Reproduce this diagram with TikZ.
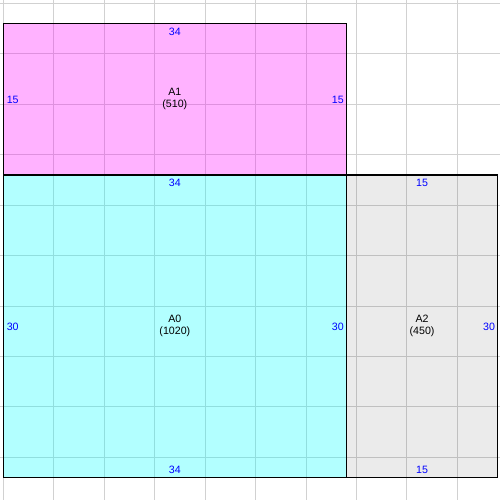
\documentclass[tikz,border=0pt]{standalone}
\usepackage{fontspec}
\setmainfont{Liberation Sans}
\definecolor{areaPink}{RGB}{255,0,255}
\definecolor{areaCyan}{RGB}{0,255,255}
\definecolor{areaGray}{RGB}{0,0,0}
\definecolor{dimBlue}{RGB}{0,0,255}
\begin{document}
\begin{tikzpicture}[x=1mm,y=-1mm]
    \tikzstyle{gridline}=[black!18,line width=0.1mm]
    \tikzstyle{dimlabel}=[text=dimBlue,font=\fontsize{3.0}{3.4}\selectfont,inner sep=0pt]
    \tikzstyle{arealabel}=[align=center,font=\fontsize{3.0}{3.4}\selectfont,inner sep=0pt]
    \useasboundingbox (-0.33,-0.33) rectangle (49.22,49.22);
    \clip (-0.33,-0.33) rectangle (49.22,49.22);
    \foreach \g in {0,5,...,45}
        {\draw[gridline] (\g,-1) -- (\g,50);
         \draw[gridline] (-1,\g) -- (50,\g);}

    % areas
    \foreach \nm/\xa/\ya/\xb/\yb/\col/\op/\area in {A1/0/2/34/17/areaPink/0.3/510, A0/0/17/34/47/areaCyan/0.3/1020, A2/34/17/49/47/areaGray/0.08/450}
        {\fill[\col,fill opacity=\op] (\xa,\ya) rectangle (\xb,\yb);
         \draw[line width=0.13mm] (\xa,\ya) rectangle (\xb,\yb);
         \node[arealabel] (N-\nm) at ({(\xa+\xb)/2},{(\ya+\yb)/2}) {\nm\\(\area)};}

    % side lengths
    \node[dimlabel,anchor=north] (T-A1) at (17,2.34) {34};
    \node[dimlabel,anchor=west] (L-A1) at (0.27,9.6) {15};
    \node[dimlabel,anchor=east] (R-A1) at (33.8,9.6) {15};
    \node[dimlabel,anchor=north] (T-A0) at (17,17.34) {34};
    \node[dimlabel,anchor=west] (L-A0) at (0.27,32.1) {30};
    \node[dimlabel,anchor=east] (R-A0) at (33.8,32.1) {30};
    \node[dimlabel,anchor=south] (B-A0) at (17,46.67) {34};
    \node[dimlabel,anchor=north] (T-A2) at (41.5,17.34) {15};
    \node[dimlabel,anchor=east] (R-A2) at (48.8,32.1) {30};
    \node[dimlabel,anchor=south] (B-A2) at (41.5,46.67) {15};
\end{tikzpicture}
\end{document}
